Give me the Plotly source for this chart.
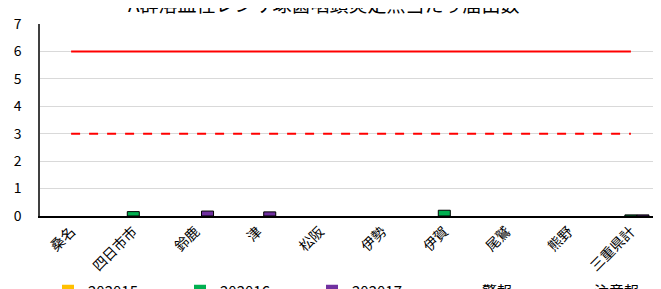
import plotly.graph_objects as go

categories = ["桑名", "四日市市", "鈴鹿", "津", "松阪", "伊勢", "伊賀", "尾鷲", "熊野", "三重県計"]
s2015 = [0, 0, 0, 0, 0, 0, 0, 0, 0, 0]
s2016 = [0, 0.16, 0, 0, 0, 0, 0.21, 0, 0, 0.04]
s2017 = [0, 0, 0.18, 0.15, 0, 0, 0, 0, 0, 0.04]
alarm = [6] * 10
caution = [3] * 10
series_names = ["202015", "202016", "202017", "警報", "注意報"]
title_text = "A群溶血性レンサ球菌咽頭炎定点当たり届出数"

FONT = "Noto Sans CJK JP"
OFF = 8  # page body margin offset
fig = go.Figure()
bar_specs = [(series_names[0], s2015, "#FFC000", "legend"),
             (series_names[1], s2016, "#00B050", "legend2"),
             (series_names[2], s2017, "#7030A0", "legend3")]
for name, vals, col, lg in bar_specs:
    fig.add_trace(go.Bar(x=categories, y=vals, name=name, legend=lg,
                         marker=dict(color=col,
                                     line=dict(color="black",
                                               width=[1 if v > 0 else 0 for v in vals]))))
fig.add_trace(go.Scatter(x=categories, y=alarm, name=series_names[3], mode="lines",
                         legend="legend4", line=dict(color="#FF0000", width=2)))
fig.add_trace(go.Scatter(x=categories, y=caution, name=series_names[4], mode="lines",
                         legend="legend5", line=dict(color="#FF0000", width=2, dash="dash")))

# page coordinates of plot area
P_L, P_R, P_T, P_B = 40, 662, 24, 216
W, H = 661, 289
PLOT_L, PLOT_T = P_L - OFF, P_T - OFF
PLOT_W, PLOT_H = P_R - P_L, P_B - P_T
leg_y = (P_B - 291) / PLOT_H


def leg(px):
    return dict(orientation="h", x=(px - P_L) / PLOT_W, xanchor="left", y=leg_y,
                yanchor="middle", font=dict(size=15, family=FONT),
                bgcolor="rgba(0,0,0,0)")


fig.update_layout(
    width=W, height=H,
    margin=dict(l=PLOT_L, r=W - PLOT_L - PLOT_W, t=PLOT_T, b=H - PLOT_T - PLOT_H,
                autoexpand=False),
    paper_bgcolor="white", plot_bgcolor="white",
    font=dict(family=FONT, size=14, color="black"),
    barmode="group", bargap=0.42, bargroupgap=0,
    showlegend=True,
    legend=leg(48), legend2=leg(180), legend3=leg(312),
    legend4=leg(442), legend5=leg(554),
    annotations=[dict(text=title_text, xref="paper", yref="paper",
                      x=(324 - P_L) / PLOT_W, y=1 + (P_T - 3) / PLOT_H,
                      xanchor="center", yanchor="middle", showarrow=False,
                      font=dict(size=19, family=FONT, color="black"))],
)
fig.update_yaxes(range=[0, 7], dtick=1, showgrid=True, gridcolor="#D9D9D9", gridwidth=1,
                 showline=True, linecolor="#404040", linewidth=1.5, ticks="", zeroline=False,
                 tickfont=dict(size=14), ticklabelstandoff=14, automargin=False)
fig.update_xaxes(showline=True, linecolor="black", linewidth=1.5, tickangle=-45,
                 tickfont=dict(size=14), ticks="", automargin=False)

fig.write_html("out.html")
